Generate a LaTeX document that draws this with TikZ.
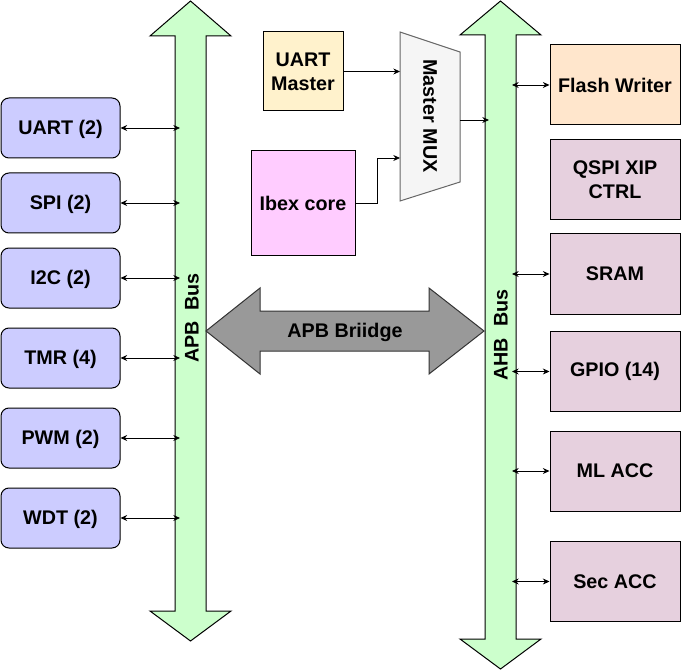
\documentclass[tikz,border=0pt]{standalone}
\usepackage{fontspec}
\setmainfont{Liberation Sans}
\usetikzlibrary{arrows.meta}

\definecolor{apbblue}{HTML}{CCCCFF}
\definecolor{ahbpink}{HTML}{E6D0DE}
\definecolor{flashorange}{HTML}{FFE6CC}
\definecolor{uartyellow}{HTML}{FFF2CC}
\definecolor{ibexpink}{HTML}{FFCCFF}
\definecolor{busgreen}{HTML}{CCFFCC}
\definecolor{muxfill}{HTML}{F5F5F5}
\definecolor{muxgray}{HTML}{666666}
\definecolor{bridgegray}{HTML}{999999}

\begin{document}
\begin{tikzpicture}[x=0.75pt,y=-0.75pt,line width=0.75pt,
    txt/.style={font=\bfseries\fontsize{14.8}{17.8}\selectfont},
    periph/.style={txt, draw, fill=apbblue, rounded corners=6pt, minimum width=89.25pt, minimum height=45pt, inner sep=0pt, text depth=1pt},
    slave/.style={txt, draw, fill=ahbpink, minimum width=97.5pt, minimum height=60pt, align=center, inner sep=0pt},
    bus/.style={draw=black, fill=busgreen},
    link/.style={{Stealth[length=5pt,width=4.5pt]}-{Stealth[length=5pt,width=4.5pt]}, line width=0.6pt},
    feed/.style={-{Stealth[length=5pt,width=4.5pt]}, line width=0.6pt}]
    \useasboundingbox (0,0) rectangle (681,670);
    % APB bus:
    \draw [bus] (190.5,1) -- (231,36) -- (206,36) -- (206,611) -- (231,611) -- (190.5,641)
        -- (150,611) -- (175,611) -- (175,36) -- (150,36) -- cycle;
    \node [txt, rotate=90] (apblbl) at (192,318) {APB\ \ Bus};
    \coordinate (apbin) at (180,0);
    % AHB bus:
    \draw [bus] (500.5,1) -- (541,35) -- (516,35) -- (516,639) -- (541,639) -- (500.5,669)
        -- (460,639) -- (485,639) -- (485,35) -- (460,35) -- cycle;
    \node [txt, rotate=90] (ahblbl) at (501,335) {AHB\ \ Bus};
    \coordinate (ahbin) at (512,0);
    \coordinate (ahbport) at (489,120);
    % bridge:
    \draw [draw=black!80, fill=bridgegray] (206,331) -- (260,288) -- (260,311) -- (429,311) -- (429,288)
        -- (484,331) -- (429,374) -- (429,351) -- (260,351) -- (260,374) -- cycle;
    \node [txt] (bridge) at (345,332) {APB Briidge};
    % APB peripherals:
    \node [periph] (uart) at (60.5,128) {UART (2)};
    \node [periph] (spi) at (60.5,203) {SPI (2)};
    \node [periph] (i2c) at (60.5,278) {I2C (2)};
    \node [periph] (tmr) at (60.5,358) {TMR (4)};
    \node [periph] (pwm) at (60.5,438) {PWM (2)};
    \node [periph] (wdt) at (60.5,518) {WDT (2)};
    \draw [link] (uart.east) -- (uart.east -| apbin);
    \draw [link] (spi.east) -- (spi.east -| apbin);
    \draw [link] (i2c.east) -- (i2c.east -| apbin);
    \draw [link] (tmr.east) -- (tmr.east -| apbin);
    \draw [link] (pwm.east) -- (pwm.east -| apbin);
    \draw [link] (wdt.east) -- (wdt.east -| apbin);
    % AHB slaves:
    \node [slave, fill=flashorange] (flash) at (615,85) {Flash Writer};
    \node [slave] (qspi) at (615,180) {QSPI XIP\\CTRL};
    \node [slave] (sram) at (615,274) {SRAM};
    \node [slave] (gpio) at (615,371.5) {GPIO (14)};
    \node [slave] (mlacc) at (615,471) {ML ACC};
    \node [slave] (secacc) at (615,581.5) {Sec ACC};
    \draw [link] (flash.west -| ahbin) -- (flash.west);
    \draw [link] (sram.west -| ahbin) -- (sram.west);
    \draw [link] (gpio.west -| ahbin) -- (gpio.west);
    \draw [link] (mlacc.west -| ahbin) -- (mlacc.west);
    \draw [link] (secacc.west -| ahbin) -- (secacc.west);
    % masters and mux:
    \node [txt, draw, fill=uartyellow, minimum width=60pt, minimum height=59.25pt, align=center, inner sep=0pt] (umaster) at (303,71.5) {UART\\Master};
    \node [txt, draw, fill=ibexpink, minimum size=78pt, inner sep=0pt] (ibex) at (303,203) {Ibex core};
    \draw [draw=muxgray, fill=muxfill] (400,32) -- (460,52) -- (460,182) -- (400,201) -- cycle;
    \node [txt, rotate=-90] (mux) at (430,116) {Master MUX};
    \coordinate (muxin) at (400,0);
    \coordinate (muxin2) at (400,158);
    \coordinate (muxout) at (460,120);
    \draw [feed] (umaster.east) -- (umaster.east -| muxin);
    \draw [feed] (ibex.east) -- ++(22,0) |- (muxin2);
    \draw [feed] (muxout) -- (ahbport);
\end{tikzpicture}
\end{document}
